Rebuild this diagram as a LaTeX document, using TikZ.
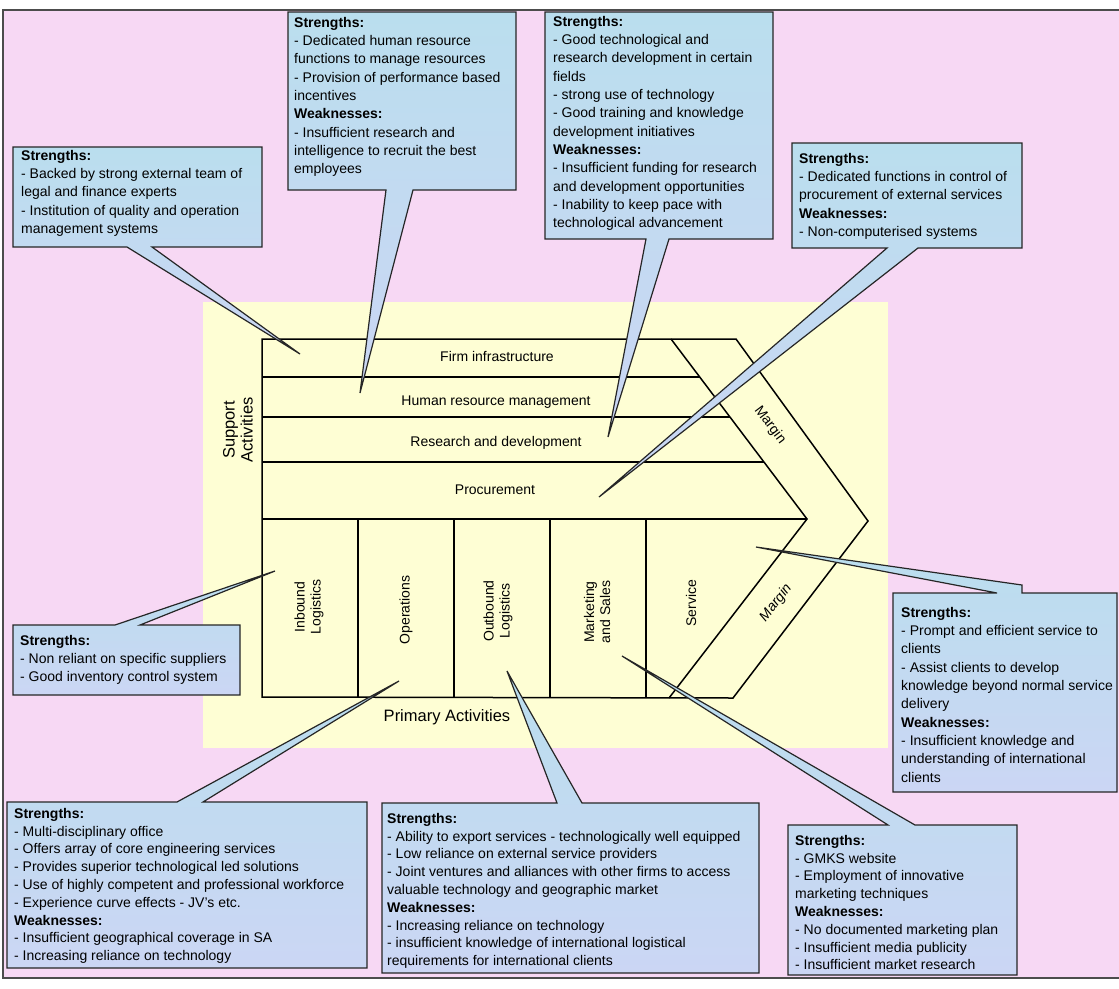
\documentclass[tikz,border=0pt]{standalone}
\usepackage{fontspec}
\setmainfont{Liberation Sans}
\definecolor{pinkbg}{RGB}{247,216,244}
\definecolor{chainbg}{RGB}{254,254,212}
\definecolor{bubbletop}{RGB}{186,222,238}
\definecolor{bubblebot}{RGB}{203,214,244}
\begin{document}
\begin{tikzpicture}[x=1pt,y=-1pt,
  chainline/.style={line width=1.5pt, black, line join=miter},
  bubble/.style={draw=black!85, line width=1.2pt, line join=miter,
    top color=bubbletop, bottom color=bubblebot},
  bubbletext/.style={anchor=north west, inner sep=0pt, align=left,
    font=\fontsize{14}{18.3}\selectfont},
  lowtext/.style={bubbletext, font=\fontsize{14}{17.8}\selectfont},
  lab/.style={inner sep=0pt, align=center, font=\fontsize{14}{16}\selectfont},
  biglab/.style={inner sep=0pt, align=center, font=\fontsize{16.5}{18}\selectfont}]
\useasboundingbox (0,0) rectangle (1119,988);
% page and frame
\fill[white] (0,0) rectangle (1119,988);
\fill[pinkbg] (3,10) rectangle (1119,978);
\draw[black!70, line width=1.2pt] (1119,10) -- (3,10) -- (3,978) -- (1119,978);
% value chain panel
\fill[chainbg] (203,302) rectangle (888,748);

% value chain outline
\coordinate (TL) at (262,339);
\coordinate (BL) at (262,697);
\coordinate (Ti) at (671,339);
\coordinate (To) at (736,339);
\coordinate (Pi) at (807,519);
\coordinate (Po) at (868,521);
\coordinate (Bi) at (669,698);
\coordinate (Bo) at (733,698);
\draw[chainline] (BL) -- (TL) -- (To) -- (Po) -- (Bo) -- cycle;
\draw[chainline] (Ti) -- (Pi) -- (Bi);
% support rows
\draw[chainline] (262,377) -- (700,377);
\draw[chainline] (262,417) -- (730,417);
\draw[chainline] (262,462) -- (764,462);
\draw[chainline] (262,519) -- (Pi);
% primary columns
\foreach \cx in {358,454,550,646} \draw[chainline] (\cx,519) -- (\cx,697);

% labels of the chain
\node[lab] (firm) at (497,356) {Firm infrastructure};
\node[lab] (hrm) at (496,402) {Human resource management};
\node[lab] (rnd) at (496,443) {Research and development};
\node[lab] (proc) at (495,490) {Procurement};
\node[lab, rotate=90] (inb) at (309,607) {Inbound\\Logistics};
\node[lab, rotate=90] (ops) at (406,610) {Operations};
\node[lab, rotate=90] (outb) at (498,611) {Outbound\\Logistics};
\node[lab, rotate=90] (mkt) at (597,612) {Marketing\\and Sales};
\node[lab, rotate=90] (svc) at (691,603) {Service};
\node[lab, rotate=-53] (margA) at (770,425) {Margin};
\node[lab, rotate=52, font=\fontsize{14}{16}\selectfont\itshape] (margB) at (776,603) {Margin};
\node[biglab, rotate=90] (supp) at (238,430) {Support\\Activities};
\node[biglab] (prim) at (447,717) {Primary Activities};

% pointer tips
\coordinate (tipFirm) at (300,354);
\coordinate (tipHR) at (360,393);
\coordinate (tipRnD) at (608,437);
\coordinate (tipProc) at (599,497);
\coordinate (tipInb) at (275,571);
\coordinate (tipOps) at (399,681);
\coordinate (tipOut) at (507,671);
\coordinate (tipMkt) at (622,656);
\coordinate (tipSvc) at (756,547);

% callouts
\path[bubble] (13,147) -- (262,147) -- (262,247) -- (152,247) -- (tipFirm) -- (127,247) -- (13,247) -- cycle;
\node[bubbletext] (cFirm) at (21,150) {\textbf{Strengths:}\\
- Backed by strong external team of\\
legal and finance experts\\
- Institution of quality and operation\\
management systems};

\path[bubble] (288,12) -- (516,12) -- (516,190) -- (413,190) -- (tipHR) -- (386,190) -- (288,190) -- cycle;
\node[bubbletext] (cHR) at (294,17) {\textbf{Strengths:}\\
- Dedicated human resource\\
functions to manage resources\\
- Provision of performance based\\
incentives\\
\textbf{Weaknesses:}\\
- Insufficient research and\\
intelligence to recruit the best\\
employees};

\path[bubble] (545,12) -- (773,12) -- (773,239) -- (669,239) -- (tipRnD) -- (646,239) -- (545,239) -- cycle;
\node[bubbletext] (cRnD) at (553,16) {\textbf{Strengths:}\\
- Good technological and\\
research development in certain\\
fields\\
- strong use of technology\\
- Good training and knowledge\\
development initiatives\\
\textbf{Weaknesses:}\\
- Insufficient funding for research\\
and development opportunities\\
- Inability to keep pace with\\
technological advancement};

\path[bubble] (792,143) -- (1022,143) -- (1022,248) -- (918,248) -- (tipProc) -- (887,248) -- (792,248) -- cycle;
\node[bubbletext] (cProc) at (799,153) {\textbf{Strengths:}\\
- Dedicated functions in control of\\
procurement of external services\\
\textbf{Weaknesses:}\\
- Non-computerised systems};

\path[bubble] (13,625) -- (115,625) -- (tipInb) -- (140,625) -- (240,625) -- (240,695) -- (13,695) -- cycle;
\node[bubbletext] (cInb) at (20,635) {\textbf{Strengths:}\\
- Non reliant on specific suppliers\\
- Good inventory control system};

\path[bubble] (893,593) -- (997,593) -- (tipSvc) -- (1022,585) -- (1022,593) -- (1117,593) -- (1117,792) -- (893,792) -- cycle;
\node[bubbletext] (cSvc) at (901,607) {\textbf{Strengths:}\\
- Prompt and efficient service to\\
clients\\
- Assist clients to develop\\
knowledge beyond normal service\\
delivery\\
\textbf{Weaknesses:}\\
- Insufficient knowledge and\\
understanding of international\\
clients};

\path[bubble] (7,802) -- (177,802) -- (tipOps) -- (203,802) -- (367,802) -- (367,968) -- (7,968) -- cycle;
\node[lowtext] (cOps) at (14,808) {\textbf{Strengths:}\\
- Multi-disciplinary office\\
- Offers array of core engineering services\\
- Provides superior technological led solutions\\
- Use of highly competent and professional workforce\\
- Experience curve effects - JV's etc.\\
\textbf{Weaknesses:}\\
- Insufficient geographical coverage in SA\\
- Increasing reliance on technology};

\path[bubble] (382,803) -- (557,803) -- (tipOut) -- (582,803) -- (759,803) -- (759,973) -- (382,973) -- cycle;
\node[lowtext] (cOut) at (387,813) {\textbf{Strengths:}\\
- Ability to export services - technologically well equipped\\
- Low reliance on external service providers\\
- Joint ventures and alliances with other firms to access\\
valuable technology and geographic market\\
\textbf{Weaknesses:}\\
- Increasing reliance on technology\\
- insufficient knowledge of international logistical\\
requirements for international clients};

\path[bubble] (788,825) -- (888,825) -- (tipMkt) -- (915,825) -- (1017,825) -- (1017,975) -- (788,975) -- cycle;
\node[lowtext] (cMkt) at (795,835) {\textbf{Strengths:}\\
- GMKS website\\
- Employment of innovative\\
marketing techniques\\
\textbf{Weaknesses:}\\
- No documented marketing plan\\
- Insufficient media publicity\\
- Insufficient market research};
\end{tikzpicture}
\end{document}
